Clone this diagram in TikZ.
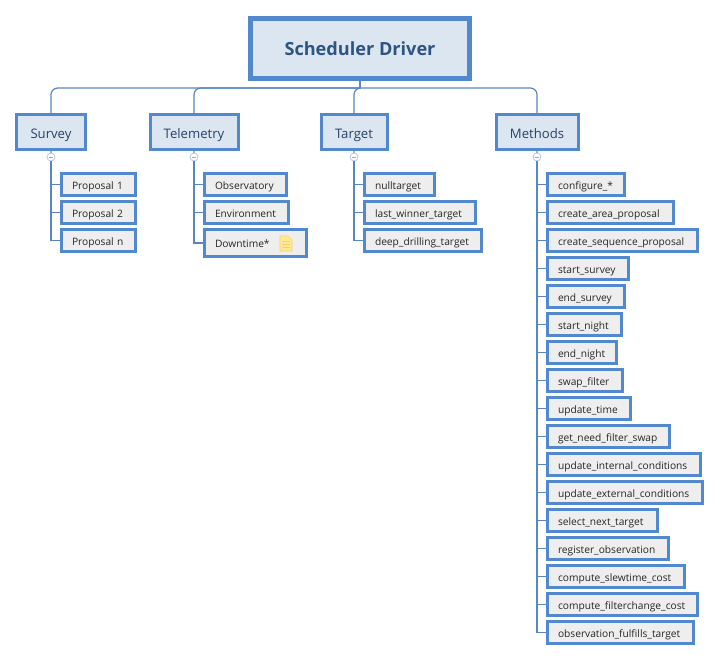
\documentclass[tikz,border=0pt]{standalone}
\usepackage{fontspec}
\setmainfont{Open Sans}
\definecolor{edgeblue}{RGB}{82,136,205}
\definecolor{linkblue}{RGB}{88,134,196}
\definecolor{paleblue}{RGB}{220,230,241}
\definecolor{palegrey}{RGB}{238,238,238}
\definecolor{titleblue}{RGB}{46,84,130}
\definecolor{headblue}{RGB}{38,66,104}
\definecolor{noteyellow}{RGB}{255,232,150}
\definecolor{noteedge}{RGB}{245,210,110}
\tikzset{
  rootbox/.style={draw=edgeblue, fill=paleblue, line width=3.75pt, text=titleblue,
    font=\bfseries\fontsize{13.6}{16}\selectfont, text height=12pt, text depth=0.8pt,
    minimum width=219*0.75pt, minimum height=60*0.75pt},
  headbox/.style={draw=edgeblue, fill=paleblue, line width=2.25pt, text=headblue,
    font=\fontsize{9.85}{12}\selectfont, text height=9.5pt, text depth=0.5pt,
    minimum height=35*0.75pt},
  leafbox/.style={draw=edgeblue, fill=palegrey, line width=2.6pt, text=black!85,
    font=\fontsize{7.65}{9}\selectfont, align=left, inner xsep=7.7pt, inner ysep=0pt,
    text height=7pt, text depth=0.2pt,
    text width=(#1-24)*0.75pt, minimum height=21.5*0.75pt},
  foldmark/.style={circle, draw=linkblue!45, fill=white, line width=0.6pt, inner sep=0pt, minimum size=6pt},
  link/.style={draw=linkblue, line width=0.9pt},
}
\begin{document}
\begin{tikzpicture}[x=0.75pt, y=-0.75pt]
  \useasboundingbox (0,0) rectangle (720,661);

  % Root
  \node[rootbox] (driver) at (360,48.5) {Scheduler Driver};
  \coordinate (hub) at (360,88);
  \draw[link] (driver.south) -- (hub);

  % First level
  \foreach \name/\label/\x/\wid in {survey/Survey/51/69, telemetry/Telemetry/194/88, target/Target/354/66, methods/Methods/537/82} {
    \node[headbox, minimum width=\wid*0.75pt] (\name) at (\x,132) {\label};
    \node[foldmark] (\name fold) at (\x,157) {};
    \draw[link, rounded corners=5pt] (hub) -| (\name.north);
    \draw[link, linkblue!60] (\name.south) -- (\name fold.north);
    \draw[linkblue!70, line width=0.5pt] ([xshift=-1.8pt]\name fold.center) -- ([xshift=1.8pt]\name fold.center);
  }

  % Survey
  \foreach \name/\label/\y/\wid in {propone/Proposal 1/184.5/77, proptwo/Proposal 2/212.5/77, propn/Proposal n/240.5/77} {
    \node[leafbox=\wid] (\name) at (60+\wid/2,\y) {\label};
    \draw[link] (surveyfold.south) |- (\name.west);
  }

  % Telemetry
  \foreach \name/\label/\y/\wid in {observatory/Observatory/184.5/85, environment/Environment/212.5/87} {
    \node[leafbox=\wid] (\name) at (203+\wid/2,\y) {\label};
    \draw[link] (telemetryfold.south) |- (\name.west);
  }
  \node[leafbox=105, minimum height=26.5*0.75pt] (downtime) at (255.5,243) {Downtime*};
  \draw[link] (telemetryfold.south) |- (downtime.west);

  % Note icon
  \fill[noteyellow] (280,236) -- (288,236) -- (292,240) -- (292,251) -- (280,251) -- cycle;
  \draw[noteedge, line width=0.5pt] (280,236) -- (288,236) -- (292,240) -- (292,251) -- (280,251) -- cycle;
  \foreach \y in {241,244,247} {
    \draw[noteedge, line width=0.6pt] (282,\y) -- (290,\y);
  }

  % Target
  \foreach \name/\label/\y/\wid in {nulltarget/nulltarget/184.5/73, lastwinner/last\_winner\_target/212.5/114, deepdrilling/deep\_drilling\_target/240.5/120} {
    \node[leafbox=\wid] (\name) at (363+\wid/2,\y) {\label};
    \draw[link] (targetfold.south) |- (\name.west);
  }

  % Methods
  \foreach \label/\wid [count=\i from 0] in {configure\_*/80, create\_area\_proposal/129, create\_sequence\_proposal/153,
      start\_survey/84, end\_survey/80, start\_night/77, end\_night/72, swap\_filter/78, update\_time/86,
      get\_need\_filter\_swap/125, update\_internal\_conditions/156, update\_external\_conditions/158,
      select\_next\_target/113, register\_observation/124, compute\_slewtime\_cost/140,
      compute\_filterchange\_cost/153, observation\_fulfills\_target/149} {
    \pgfmathsetmacro{\y}{184.5+28*\i}
    \node[leafbox=\wid] (method\i) at (546+\wid/2,\y) {\label};
    \draw[link] (methodsfold.south) |- (method\i.west);
  }
\end{tikzpicture}
\end{document}
